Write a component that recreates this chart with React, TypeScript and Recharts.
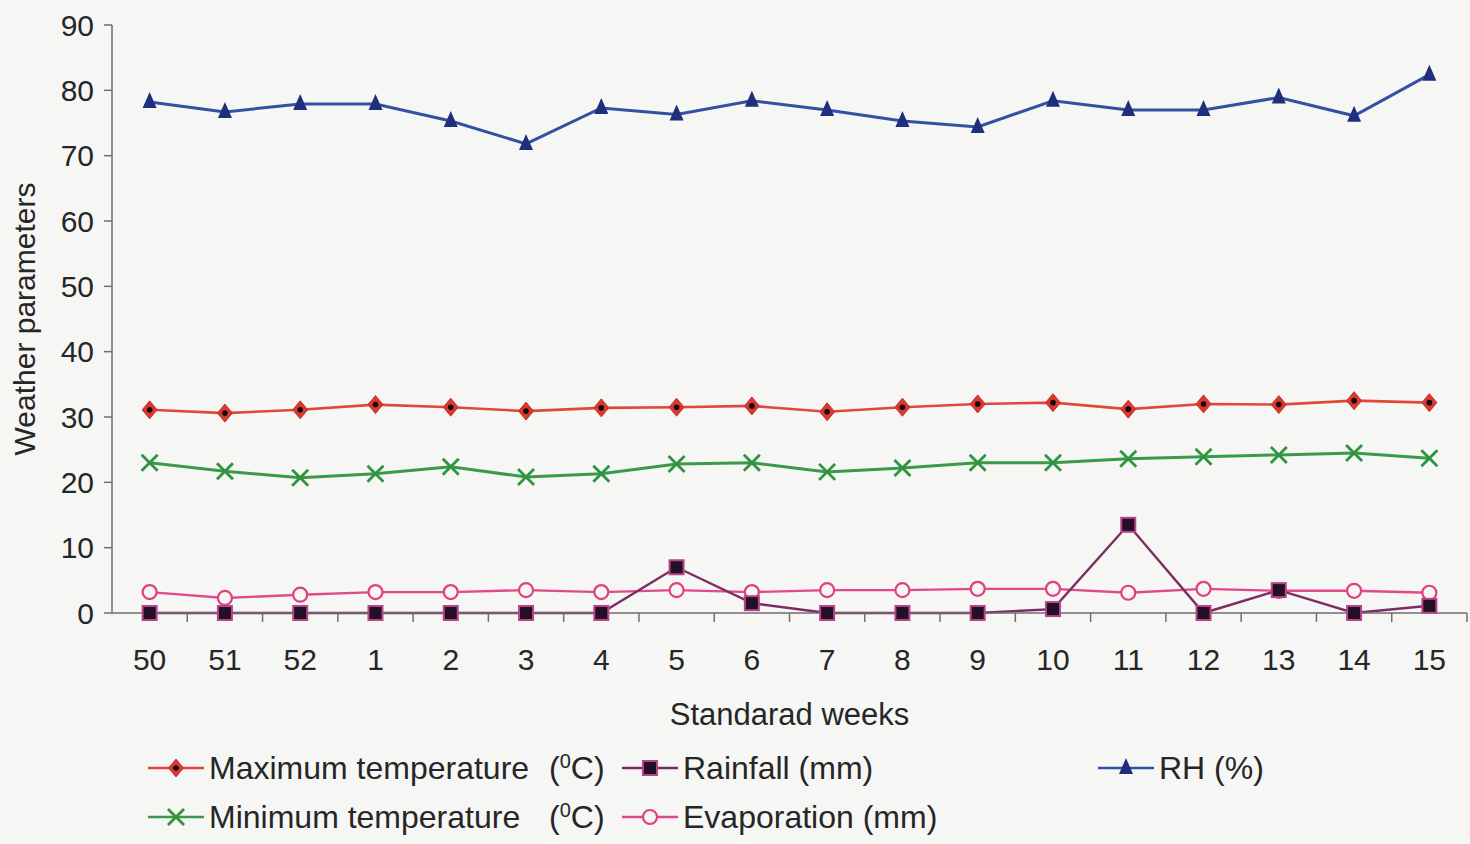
import { LineChart, Line, XAxis, YAxis, Legend, Label } from 'recharts';

const weeks = ['50', '51', '52', '1', '2', '3', '4', '5', '6', '7', '8', '9', '10', '11', '12', '13', '14', '15'];
const maxTemp = [31.1, 30.6, 31.1, 31.9, 31.5, 30.9, 31.4, 31.5, 31.7, 30.8, 31.5, 32.0, 32.2, 31.2, 32.0, 31.9, 32.5, 32.2];
const minTemp = [23.0, 21.7, 20.7, 21.3, 22.4, 20.8, 21.3, 22.8, 23.0, 21.6, 22.2, 23.0, 23.0, 23.6, 23.9, 24.2, 24.5, 23.7];
const rainfall = [0, 0, 0, 0, 0, 0, 0, 7.0, 1.5, 0, 0, 0, 0.6, 13.5, 0, 3.5, 0, 1.1];
const evaporation = [3.2, 2.3, 2.8, 3.2, 3.2, 3.5, 3.2, 3.5, 3.2, 3.5, 3.5, 3.7, 3.7, 3.1, 3.7, 3.4, 3.4, 3.1];
const rh = [78.2, 76.7, 77.9, 77.9, 75.3, 71.8, 77.3, 76.3, 78.4, 77.0, 75.3, 74.4, 78.4, 77.0, 77.0, 78.9, 76.1, 82.4];
const yTicks = [0, 10, 20, 30, 40, 50, 60, 70, 80, 90];

const data = weeks.map((w, i) => ({
  week: w,
  maxTemp: maxTemp[i],
  minTemp: minTemp[i],
  rainfall: rainfall[i],
  evaporation: evaporation[i],
  rh: rh[i],
}));

const W = 1470;
const H = 844;
const PLOT_W = 1355;
const HALF = PLOT_W / weeks.length / 2;
const BG = '#f6f6f4';
const FONT = '"Liberation Sans", Arial, sans-serif';
const TEXT = '#262626';
const AXIS = '#6e6e6e';

const C = {
  max: '#e0483c',
  min: '#3b9a4a',
  rain: '#7e2b64',
  evap: '#e2498a',
  rh: '#3350a2',
};

function Diamond({ cx, cy }: any) {
  return (
    <g>
      <polygon points={`${cx},${cy - 9} ${cx + 7.5},${cy} ${cx},${cy + 9} ${cx - 7.5},${cy}`} fill="#d7392f" stroke="#c9332a" strokeWidth={1} />
      <circle cx={cx} cy={cy} r={2.8} fill="#1c0808" />
    </g>
  );
}

function Cross({ cx, cy }: any) {
  return (
    <g stroke="#2f9440" strokeWidth={2.8}>
      <line x1={cx - 8} y1={cy - 8} x2={cx + 8} y2={cy + 8} />
      <line x1={cx - 8} y1={cy + 8} x2={cx + 8} y2={cy - 8} />
    </g>
  );
}

function Square({ cx, cy }: any) {
  return <rect x={cx - 7} y={cy - 7} width={14} height={14} fill="#241026" stroke="#b9448a" strokeWidth={2} />;
}

function Ring({ cx, cy }: any) {
  return <circle cx={cx} cy={cy} r={7} fill={BG} stroke="#e0407c" strokeWidth={2.2} />;
}

function Triangle({ cx, cy }: any) {
  return <polygon points={`${cx},${cy - 10} ${cx + 7},${cy + 6} ${cx - 7},${cy + 6}`} fill="#1f2f7c" />;
}

const dot = (Shape: any) => (props: any) => <Shape key={`d-${props.index}`} cx={props.cx} cy={props.cy} />;

function XTick({ x, y, payload }: any) {
  return (
    <g>
      <line x1={x + HALF} y1={y} x2={x + HALF} y2={y + 9} stroke={AXIS} strokeWidth={1.5} />
      <text x={x} y={y + 57} textAnchor="middle" fontSize={30} fontFamily={FONT} fill={TEXT}>
        {payload.value}
      </text>
    </g>
  );
}

function LegendItem({ x, y, color, Shape, label, unit }: any) {
  return (
    <g>
      <line x1={x} y1={y} x2={x + 56} y2={y} stroke={color} strokeWidth={2.5} />
      <Shape cx={x + 28} cy={y} />
      <text x={x + 61} y={y + 11} fontSize={32} fontFamily={FONT} fill={TEXT}>
        {label}
      </text>
      {unit && (
        <text x={549} y={y + 11} fontSize={32} fontFamily={FONT} fill={TEXT}>
          (<tspan dy={-11} fontSize={20}>0</tspan>
          <tspan dy={11}>C)</tspan>
        </text>
      )}
    </g>
  );
}

function LegendBox() {
  return (
    <svg width={W - 3} height={100} style={{ display: 'block' }}>
      <LegendItem x={148} y={24} color={C.max} Shape={Diamond} label="Maximum temperature" unit />
      <LegendItem x={622} y={24} color={C.rain} Shape={Square} label="Rainfall (mm)" />
      <LegendItem x={1098} y={24} color={C.rh} Shape={Triangle} label="RH (%)" />
      <LegendItem x={148} y={73} color={C.min} Shape={Cross} label="Minimum temperature" unit />
      <LegendItem x={622} y={73} color={C.evap} Shape={Ring} label="Evaporation (mm)" />
    </svg>
  );
}

export default function App() {
  return (
    <div style={{ position: 'absolute', left: 0, top: 0, width: W, height: H, background: BG }}>
      <LineChart width={W} height={H} data={data} margin={{ top: 25, right: 3, left: 0, bottom: 0 }}>
        <XAxis
          dataKey="week"
          height={131}
          padding={{ left: HALF, right: HALF }}
          tickSize={0}
          tickMargin={0}
          tick={<XTick />}
          interval={0}
          stroke={AXIS}
          strokeWidth={1.5}
        >
          <Label
            content={({ viewBox }: any) => (
              <text x={viewBox.x + viewBox.width / 2} y={viewBox.y + 112} textAnchor="middle" fontSize={31} fontFamily={FONT} fill={TEXT}>
                Standarad weeks
              </text>
            )}
          />
        </XAxis>
        <YAxis
          width={112}
          domain={[0, 90]}
          ticks={yTicks}
          tickSize={8}
          tickMargin={10}
          stroke={AXIS}
          strokeWidth={1.5}
          tick={{ fontSize: 30, fontFamily: FONT, fill: TEXT }}
        >
          <Label
            content={({ viewBox }: any) => {
              const cy = viewBox.y + viewBox.height / 2;
              return (
                <text x={35} y={cy} transform={`rotate(-90 35 ${cy})`} textAnchor="middle" fontSize={30} fontFamily={FONT} fill={TEXT}>
                  Weather parameters
                </text>
              );
            }}
          />
        </YAxis>
        <Legend verticalAlign="bottom" content={() => <LegendBox />} />
        <Line dataKey="rh" name="RH (%)" stroke={C.rh} strokeWidth={3} dot={dot(Triangle)} isAnimationActive={false} />
        <Line dataKey="maxTemp" name="Maximum temperature" stroke={C.max} strokeWidth={2.6} dot={dot(Diamond)} isAnimationActive={false} />
        <Line dataKey="minTemp" name="Minimum temperature" stroke={C.min} strokeWidth={3} dot={dot(Cross)} isAnimationActive={false} />
        <Line dataKey="evaporation" name="Evaporation (mm)" stroke={C.evap} strokeWidth={2.4} dot={dot(Ring)} isAnimationActive={false} />
        <Line dataKey="rainfall" name="Rainfall (mm)" stroke={C.rain} strokeWidth={2.4} dot={dot(Square)} isAnimationActive={false} />
      </LineChart>
    </div>
  );
}
